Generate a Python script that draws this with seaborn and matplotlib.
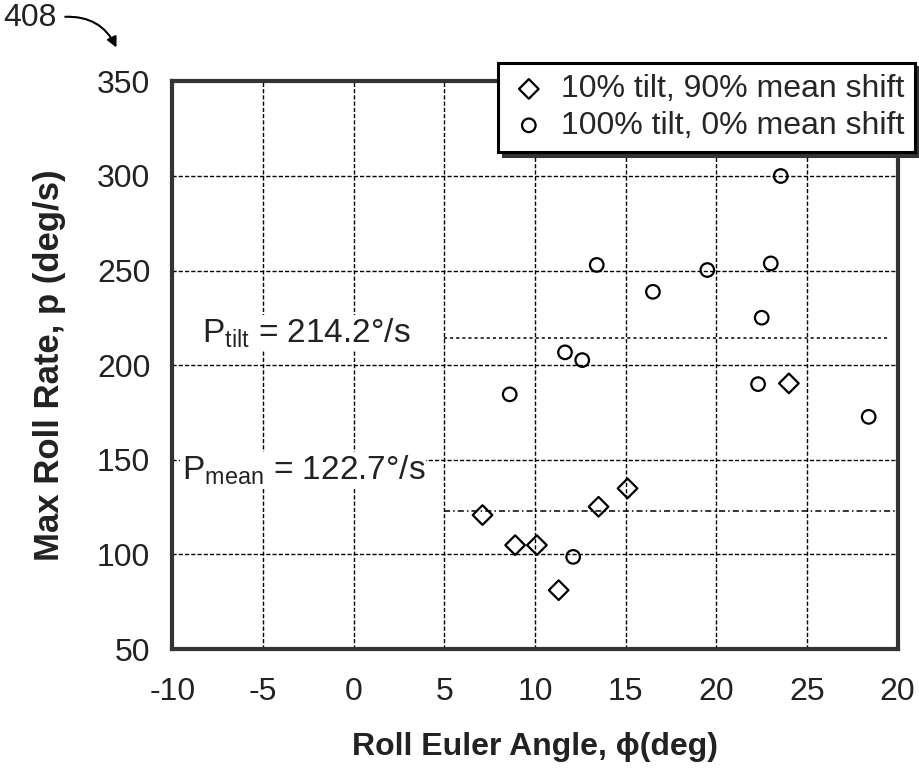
import matplotlib
matplotlib.use("Agg")
import matplotlib.pyplot as plt
import seaborn as sns
import pandas as pd

# Roll Euler angle (deg) and max roll rate (deg/s) per run
tilt10_phi = [7.1, 8.9, 10.1, 11.3, 13.5, 15.1, 24.0]
tilt10_rate = [120.8, 104.9, 104.9, 81.1, 125.2, 134.9, 190.4]

tilt100_phi = [8.6, 11.65, 12.6, 12.1, 13.4, 16.5, 19.5, 22.3, 22.5, 23.0, 23.55, 28.4]
tilt100_rate = [184.6, 206.8, 202.7, 98.7, 253.0, 238.8, 250.3, 190.0, 225.1, 253.8, 300.0, 172.7]

series_labels = ["10% tilt, 90% mean shift", "100% tilt, 0% mean shift"]

p_tilt = 214.2
p_mean = 122.7

x_ticks = [-10, -5, 0, 5, 10, 15, 20, 25, 30]
x_tick_labels = ["-10", "-5", "0", "5", "10", "15", "20", "25", "20"]
y_ticks = [50, 100, 150, 200, 250, 300, 350]

sns.set_theme(style="white")
plt.rcParams["font.family"] = ["Liberation Sans", "DejaVu Sans"]
plt.rcParams["mathtext.fontset"] = "custom"
plt.rcParams["mathtext.rm"] = "Liberation Sans"
plt.rcParams["mathtext.it"] = "Liberation Sans"

df_a = pd.DataFrame({"phi": tilt10_phi, "rate": tilt10_rate})
df_b = pd.DataFrame({"phi": tilt100_phi, "rate": tilt100_rate})

fig = plt.figure(figsize=(9.19, 7.70), dpi=100)
ax = fig.add_axes([0.1877, 0.1571, 0.7891, 0.7372])

sns.scatterplot(data=df_a, x="phi", y="rate", marker="D", s=100,
                facecolor="none", edgecolor="black", linewidth=1.6,
                label=series_labels[0], ax=ax, zorder=4)
sns.scatterplot(data=df_b, x="phi", y="rate", marker="o", s=95,
                facecolor="none", edgecolor="black", linewidth=1.6,
                label=series_labels[1], ax=ax, zorder=4)

# reference levels
ax.plot([5, 29.5], [p_tilt, p_tilt], color="black", lw=1.1,
        linestyle=(0, (2, 2)), zorder=3)
ax.plot([5, 30], [p_mean, p_mean], color="black", lw=1.1,
        linestyle=(0, (4, 2, 1, 2)), zorder=3)

ax.text(-8.35, 217, r"P$_{\mathregular{tilt}}$ = %.1f°/s" % p_tilt,
        fontsize=24, va="center", ha="left", zorder=5, color="#222222",
        bbox=dict(facecolor="white", edgecolor="none", pad=1))
ax.text(-9.5, 144.5, r"P$_{\mathregular{mean}}$ = %.1f°/s" % p_mean,
        fontsize=24, va="center", ha="left", zorder=5, color="#222222",
        bbox=dict(facecolor="white", edgecolor="none", pad=1))

ax.set_xlim(-10, 30)
ax.set_ylim(50, 350)
ax.set_xticks(x_ticks)
ax.set_xticklabels(x_tick_labels)
ax.set_yticks(y_ticks)
ax.tick_params(axis="both", direction="out", length=6, width=1,
               color="black", labelsize=23, labelcolor="#222222")
ax.tick_params(axis="x", pad=14)
ax.tick_params(axis="y", pad=10)
ax.grid(True, color="black", linewidth=1.0, linestyle=(0, (3, 1.5)), zorder=1)
ax.set_axisbelow(True)
for sp in ax.spines.values():
    sp.set_visible(True)
    sp.set_color("#333333")
    sp.set_linewidth(3)

ax.set_xlabel("Roll Euler Angle, ϕ(deg)", fontsize=23, fontweight="bold",
              color="#222222", labelpad=18)
ax.set_ylabel("Max Roll Rate, p (deg/s)", fontsize=25, fontweight="bold",
              color="#222222", labelpad=22)

leg = ax.legend(loc="upper right", bbox_to_anchor=(0.996, 0.918),
                bbox_transform=fig.transFigure, fontsize=23, frameon=True,
                fancybox=False, edgecolor="black", framealpha=1,
                handletextpad=0.4, handlelength=1.2, borderpad=0.35,
                labelspacing=0.2, borderaxespad=0,
                shadow={"color": "#333333", "alpha": 1, "ox": 3, "oy": -3})
leg.get_frame().set_linewidth(2.2)
leg.set_zorder(10)

fig.text(0.003, 0.977, "408", fontsize=23, va="center", ha="left", color="#222222")
fig.add_artist(matplotlib.patches.FancyArrowPatch(
    (0.068, 0.978), (0.128, 0.935), transform=fig.transFigure,
    connectionstyle="arc3,rad=-0.35", arrowstyle="-|>,head_length=6,head_width=3",
    color="black", lw=1.5))

fig.savefig("out.png", dpi=100)
